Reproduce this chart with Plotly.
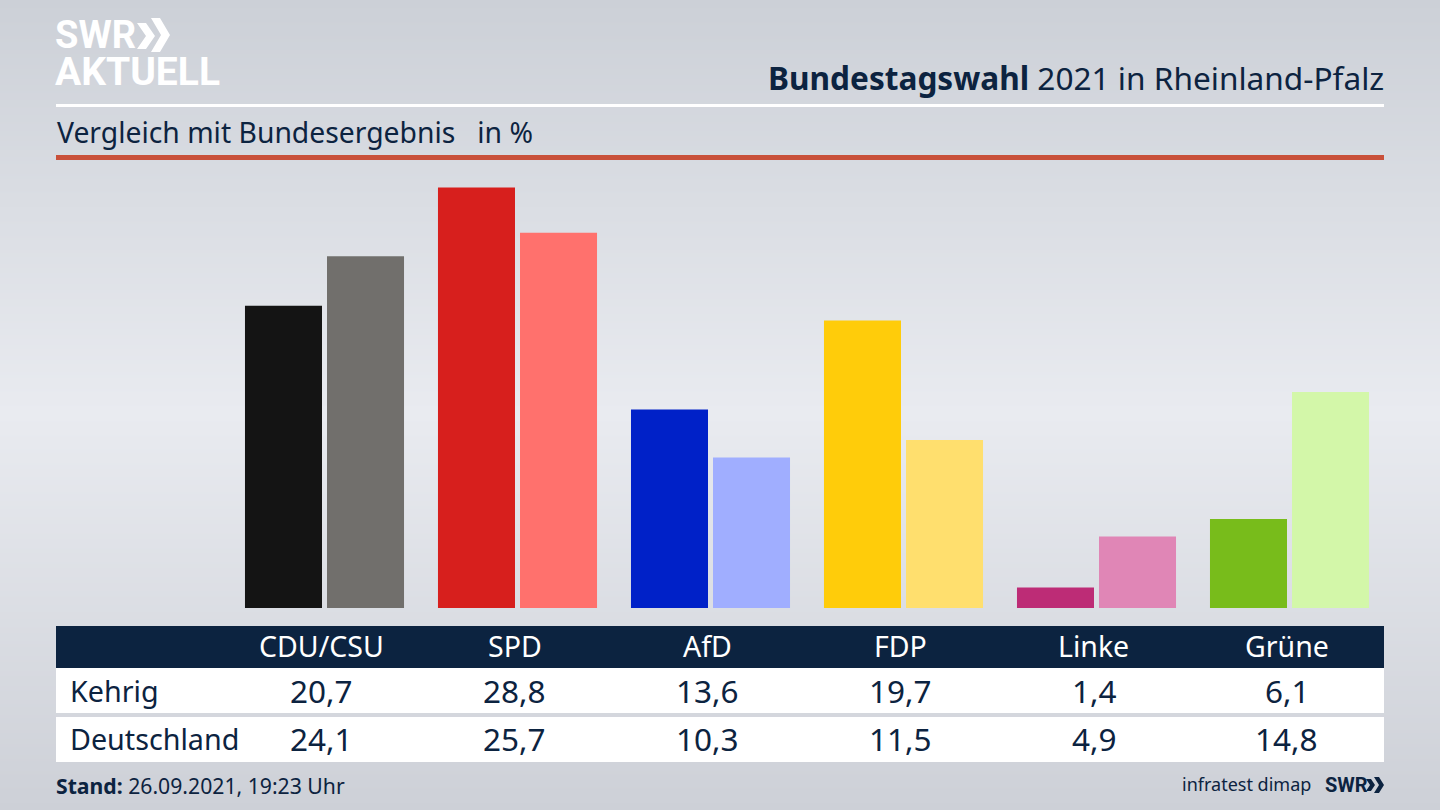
import plotly.graph_objects as go

# Data
parties = ["CDU/CSU", "SPD", "AfD", "FDP", "Linke", "Grüne"]
kehrig = [20.7, 28.8, 13.6, 19.7, 1.4, 6.1]
deutschland = [24.1, 25.7, 10.3, 11.5, 4.9, 14.8]
row_names = ["Kehrig", "Deutschland"]
colors_kehrig = ["#141414", "#d71f1d", "#0021c8", "#ffcc0a", "#bd2c76", "#78bc1b"]
colors_deutschland = ["#716f6c", "#ff716d", "#a0aeff", "#ffdf6e", "#e086b6", "#d3f7a9"]

NAVY = "#0c2340"
FONT = "Noto Sans"
LOGO_FONT = "Roboto"
W, H = 1440, 810


def px(x):
    return x / W


def py(y):
    return 1 - y / H


fig = go.Figure()

# Background gradient, sits on the first axes so it stays behind the bars
fig.add_trace(go.Heatmap(
    x=[0, 1], y=[0, 1], z=[[0, 0], [1, 1]],
    zsmooth="best", showscale=False, hoverinfo="skip",
    colorscale=[[0, "#cdd0d7"], [0.49, "#e9ebf0"], [1, "#ccd0d7"]],
))

fig.add_trace(go.Bar(x=parties, y=kehrig, name="Kehrig", xaxis="x2", yaxis="y2",
                     marker=dict(color=colors_kehrig, line_width=0)))
fig.add_trace(go.Bar(x=parties, y=deutschland, name="Deutschland", xaxis="x2", yaxis="y2",
                     marker=dict(color=colors_deutschland, line_width=0)))

shapes = []


def band(x0, x1, y0, y1, color):
    shapes.append(dict(type="rect", xref="paper", yref="paper", layer="above", line_width=0,
                       x0=px(x0), x1=px(x1), y0=py(y0), y1=py(y1), fillcolor=color))


def chevron(x, top, bot, t, d, color):
    mid = (top + bot) / 2
    pts = [(x, top), (x + t, top), (x + t + d, mid), (x + t, bot), (x, bot), (x + d, mid)]
    path = "M " + " L ".join(f"{px(a):.5f},{py(b):.5f}" for a, b in pts) + " Z"
    shapes.append(dict(type="path", xref="paper", yref="paper", layer="above", line_width=0,
                       path=path, fillcolor=color))


band(56, 1384, 104, 107, "#ffffff")
band(56, 1384, 155, 160, "#c9503a")
band(56, 1384, 626, 668, NAVY)
band(56, 1384, 668, 713, "#ffffff")
band(56, 1384, 717, 762, "#ffffff")

# SWR arrows, big one in the corner and small one in the footer
chevron(137, 23, 49, 9, 9, "#ffffff")
chevron(151, 18, 52, 9, 10, "#ffffff")
chevron(1366, 779, 791, 5, 4, NAVY)
chevron(1374, 777, 793, 5, 5, NAVY)

notes = []


def text(x, y, s, size, color=NAVY, anchor="left", family=FONT, xref="paper", xshift=0):
    notes.append(dict(x=px(x) if xref == "paper" else x, y=py(y), xref=xref, yref="paper",
                      text=s, showarrow=False, xanchor=anchor, yanchor="middle", xshift=xshift,
                      font=dict(size=size, color=color, family=family)))


# Header
text(53, 35, "<b>SWR</b>", 38, "#ffffff", family=LOGO_FONT)
text(53, 72, "<b>AKTUELL</b>", 39, "#ffffff", family=LOGO_FONT)
text(1386, 77, "<b>Bundestagswahl</b> 2021 in Rheinland-Pfalz", 31.6, anchor="right")
text(55, 132, "Vergleich mit Bundesergebnis&nbsp;&nbsp;&nbsp;in %", 28.3)

# Table
for party, k, d in zip(parties, kehrig, deutschland):
    text(party, 646, party, 28.5, "#ffffff", "center", xref="x2", xshift=-3)
    text(party, 690, f"{k:.1f}".replace(".", ","), 31.5, anchor="center", xref="x2", xshift=-3)
    text(party, 738, f"{d:.1f}".replace(".", ","), 31.5, anchor="center", xref="x2", xshift=-3)
text(68, 690, row_names[0], 28.7)
text(68, 738, row_names[1], 28.7)

# Footer
text(54, 785, "<b>Stand:</b> 26.09.2021, 19:23 Uhr", 21.2)
text(1313, 784, "infratest dimap", 18, anchor="right")
text(1323, 785, "<b>SWR</b>", 20, family=LOGO_FONT)

hidden = dict(visible=False, fixedrange=True)
fig.update_layout(
    width=W, height=H,
    margin=dict(l=0, r=0, t=0, b=0),
    paper_bgcolor="#dcdfe5",
    plot_bgcolor="rgba(0,0,0,0)",
    showlegend=False,
    barmode="group",
    bargap=0.15,
    bargroupgap=0.061,
    xaxis=dict(domain=[0, 1], range=[0, 1], **hidden),
    yaxis=dict(domain=[0, 1], range=[0, 1], **hidden),
    xaxis2=dict(domain=[px(228), px(1386)], range=[-0.5, 5.5], anchor="y2", **hidden),
    yaxis2=dict(domain=[py(608), py(160)], range=[0, 448 / 14.6], anchor="x2", **hidden),
    shapes=shapes,
    annotations=notes,
)

# the page has a default body margin, drop it so the figure fills the window
fig.write_html("out.html", post_script="document.body.style.margin = '0';",
               config=dict(displayModeBar=False))
